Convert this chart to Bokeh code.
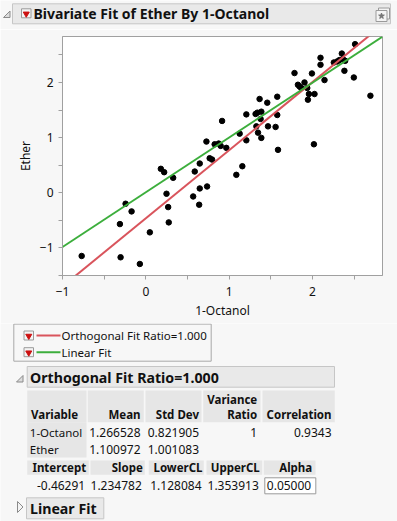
from bokeh.plotting import figure
from bokeh.layouts import column
from bokeh.models import Range1d, FixedTicker
from bokeh.core.properties import value
from bokeh.embed import file_html
from bokeh.resources import INLINE

# ---------------- data ----------------
octanol = [0.180, 0.220, 0.587, 0.647, 0.727, 0.766, 0.795, 0.826, 0.874, 0.898,
           0.915, 0.966, 1.086, 1.126, 1.158, 1.206, 1.206, 1.317, 1.338, 1.326,
           1.346, 1.365, 1.386, 1.377, 1.386, 1.457, 1.466, 1.557, 1.577, 1.577,
           1.586, 1.784, 1.825, 1.844, 1.865, 1.904, 1.937, 1.945, 1.957, 1.993,
           2.017, 2.024, 2.096, 2.096, 2.144, 2.256, 2.296, 2.323, 2.352, 2.364,
           2.392, 2.383, 2.496, 2.511, 2.695, 0.328, -0.243, -0.171, -0.311, 0.248,
           0.268, 0.275, 0.048, 0.568, 0.647, 0.735, 0.640, -0.770, -0.303, -0.072]
ether = [0.434, 0.373, 0.385, 0.530, 0.928, 0.626, 0.602, 0.879, 0.892, 0.850,
         1.302, 0.814, 0.325, 1.072, 0.481, 1.421, 0.951, 1.429, 1.452, 1.204,
         1.090, 1.700, 1.470, 1.338, 0.995, 1.633, 1.204, 1.193, 1.741, 1.410,
         0.778, 2.170, 1.958, 1.928, 1.899, 2.000, 1.899, 1.687, 1.790, 2.163,
         0.879, 1.790, 2.447, 2.320, 2.043, 2.362, 2.380, 2.405, 2.524, 2.423,
         2.392, 2.211, 2.090, 2.694, 1.759, 0.271, -0.199, -0.338, -0.568, -0.018,
         -0.260, -0.537, -0.718, -0.067, 0.078, 0.114, -0.217, -1.146, -1.170, -1.291]

fit_names = ["Orthogonal Fit Ratio=1.000", "Linear Fit"]
fit_intercepts = [-0.46291, 0.009]
fit_slopes = [1.234782, 0.993]
fit_colors = ["#d9545c", "#3cae3c"]

x_ticks = [-1, 0, 1, 2]
x_minor = [-0.5, 0.5, 1.5, 2.5]
y_ticks = [-1, 0, 1, 2]
y_minor = [-1.5, -0.5, 0.5, 1.5, 2.5]

t1_cols = ["Variable", "Mean", "Std Dev", "Variance\nRatio", "Correlation"]
t1_vars = ["1-Octanol", "Ether"]
t1_means = ["1.266528", "1.100972"]
t1_sds = ["0.821905", "1.001083"]
t1_ratio = ["1", ""]
t1_corr = ["0.9343", ""]

t2_cols = ["Intercept", "Slope", "LowerCL", "UpperCL", "Alpha"]
t2_vals = ["-0.46291", "1.234782", "1.128084", "1.353913", "0.05000"]

BG = "#f7f7f7"
HDR = "#e9e9e9"
HDR_LINE = "#c6c6c6"
CELL = "#e6e6e6"
FONT = "Noto Sans"
FS = "12px"
TFS = "11.5px"
W = 397


def pixfig(h, y_top, y_bot):
    p = figure(width=W, height=h, x_range=Range1d(0, W), y_range=Range1d(y_bot, y_top),
               output_backend="svg", toolbar_location=None,
               x_axis_location=None, y_axis_location=None, frame_align=False,
               min_border_left=0, min_border_right=0, min_border_top=0, min_border_bottom=0)
    p.grid.visible = False
    p.outline_line_color = None
    p.background_fill_color = BG
    p.border_fill_color = BG
    return p


def txt(p, x, y, t, size=FS, bold=False, align="left", color="#111111"):
    p.text(x=[x], y=[y], text=[t], text_font=value(FONT), text_font_size=size,
           text_font_style="bold" if bold else "normal", text_align=align,
           text_baseline="middle", text_color=color)


def dropdown(p, x0, y0):
    p.quad(left=[x0], right=[x0 + 9.5], top=[y0 - 4.5], bottom=[y0 + 4.5],
           fill_color="#f4f4f4", line_color="#9a9a9a", line_width=1)
    p.scatter(x=[x0 + 4.75], y=[y0 + 0.5], marker="inverted_triangle", size=6,
              fill_color="#cc1010", line_color="#cc1010")


# ---------------- header ----------------
h = pixfig(29, 0, 29)
h.patch([3, 9.5, 9.5], [17, 17, 10.5], fill_color="#dcdcdc", line_color="#8a8a8a")
h.quad(left=[12], right=[390], top=[3.3], bottom=[23.3], fill_color=HDR, line_color=HDR_LINE)
dropdown(h, 21, 12.8)
txt(h, 33, 13.3, "Bivariate Fit of Ether By 1-Octanol", size="14px", bold=True)
h.quad(left=[378], right=[389], top=[7.5], bottom=[18.5], fill_color="#f4f4f4", line_color="#9a9a9a")
h.quad(left=[375.5], right=[386.5], top=[10], bottom=[21], fill_color="#f4f4f4", line_color="#9a9a9a")
h.scatter(x=[381], y=[15.5], marker="star", size=6, fill_color="#777777", line_color="#777777")

# ---------------- scatter plot ----------------
xr = Range1d(-1, 2.84)
yr = Range1d(-1.5, 2.833)
p = figure(width=W, height=294, x_range=xr, y_range=yr, output_backend="svg",
           toolbar_location=None, frame_align=False, min_border_left=62, min_border_right=15,
           min_border_top=7, min_border_bottom=48)
p.background_fill_color = "white"
p.border_fill_color = BG
p.outline_line_color = "#a0a0a0"
p.grid.visible = False
for ax in (p.xaxis, p.yaxis):
    ax.axis_line_color = "#a0a0a0"
    ax.major_tick_line_color = "#a0a0a0"
    ax.minor_tick_line_color = "#a0a0a0"
    ax.major_tick_in = 0
    ax.major_tick_out = 4
    ax.minor_tick_in = 0
    ax.minor_tick_out = 4
    ax.major_label_text_font = FONT
    ax.major_label_text_font_size = FS
    ax.major_label_text_color = "#111111"
    ax.axis_label_text_font = FONT
    ax.axis_label_text_font_size = FS
    ax.axis_label_text_font_style = "normal"
    ax.axis_label_text_color = "#111111"
p.xaxis.major_label_standoff = 7
p.yaxis.major_label_standoff = 5
p.xaxis.axis_label_standoff = 3
p.yaxis.axis_label_standoff = 3
p.xaxis.ticker = FixedTicker(ticks=x_ticks, minor_ticks=x_minor)
p.yaxis.ticker = FixedTicker(ticks=y_ticks, minor_ticks=y_minor)
p.xaxis.axis_label = "1-Octanol"
p.yaxis.axis_label = "Ether"

p.scatter(octanol, ether, size=5.5, fill_color="black", line_color="black")
for a, b, c in zip(fit_intercepts, fit_slopes, fit_colors):
    xs = [xr.start, xr.end]
    p.line(xs, [a + b * x for x in xs], line_color=c, line_width=2)

# ---------------- bottom report ----------------
r = pixfig(198, 323, 521)
# legend box
r.quad(left=[13.3], right=[210.7], top=[323.6], bottom=[360.7], fill_color=BG, line_color="#a8a8a8")
for i, (nm, c) in enumerate(zip(fit_names, fit_colors)):
    yy = 335 + i * 16.7
    dropdown(r, 23.5, yy)
    r.segment(x0=[36], y0=[yy], x1=[60], y1=[yy], line_color=c, line_width=2)
    txt(r, 61, yy, nm, size="11.5px")

# orthogonal header
r.patch([16, 22.5, 22.5], [381.5, 381.5, 375], fill_color="#dcdcdc", line_color="#8a8a8a")
r.quad(left=[26.7], right=[334], top=[366], bottom=[386.7], fill_color=HDR, line_color=HDR_LINE)
txt(r, 29.5, 376.5, "Orthogonal Fit Ratio=1.000", size="14.2px", bold=True)

# table 1
t1_edges = [(26.7, 86), (87.3, 143.3), (145, 201), (202.7, 260), (262, 334.3)]
for (l, rr) in t1_edges:
    r.quad(left=[l], right=[rr], top=[390], bottom=[421.7], fill_color=CELL, line_color=None)
r.quad(left=[26.7], right=[86], top=[421.7], bottom=[457], fill_color=CELL, line_color=None)
txt(r, 30.5, 414.3, t1_cols[0], size=TFS, bold=True)
txt(r, 140, 414.3, t1_cols[1], size=TFS, bold=True, align="right")
txt(r, 198.5, 414.3, t1_cols[2], size=TFS, bold=True, align="right")
txt(r, 256.7, 399, t1_cols[3].split("\n")[0], size=TFS, bold=True, align="right")
txt(r, 256.7, 414.3, t1_cols[3].split("\n")[1], size=TFS, bold=True, align="right")
txt(r, 331, 414.3, t1_cols[4], size=TFS, bold=True, align="right")
for i in range(2):
    yy = 431.7 + i * 17.3
    txt(r, 29.3, yy, t1_vars[i], size=TFS)
    txt(r, 140, yy, t1_means[i], align="right")
    txt(r, 198.5, yy, t1_sds[i], align="right")
    txt(r, 256.7, yy, t1_ratio[i], align="right")
    txt(r, 331, yy, t1_corr[i], align="right")

# table 2
t2_edges = [(26.7, 88.3), (90, 144.3), (148.3, 203.3), (206, 261.7), (263.3, 315)]
t2_right = [85.7, 142.3, 202, 259.3, 311.7]
for (l, rr), xr_, cname in zip(t2_edges, t2_right, t2_cols):
    r.quad(left=[l], right=[rr], top=[460], bottom=[474.3], fill_color=CELL, line_color=None)
    txt(r, xr_, 467, cname, size=TFS, bold=True, align="right")
r.quad(left=[264.3], right=[315.3], top=[477.3], bottom=[493.3], fill_color="white", line_color="#9a9a9a")
for xr_, v in zip(t2_right, t2_vals):
    txt(r, xr_ - 1, 485.3, v, align="right")

# linear fit header
r.patch([17, 17, 22.5], [501, 512, 506.5], fill_color="#f4f4f4", line_color="#8a8a8a")
r.quad(left=[26], right=[103.3], top=[497.3], bottom=[518.3], fill_color=HDR, line_color=HDR_LINE)
txt(r, 29.5, 508, "Linear Fit", size="14.2px", bold=True)

layout = column(h, p, r, spacing=0)
open("out.html", "w").write(file_html(layout, INLINE))
